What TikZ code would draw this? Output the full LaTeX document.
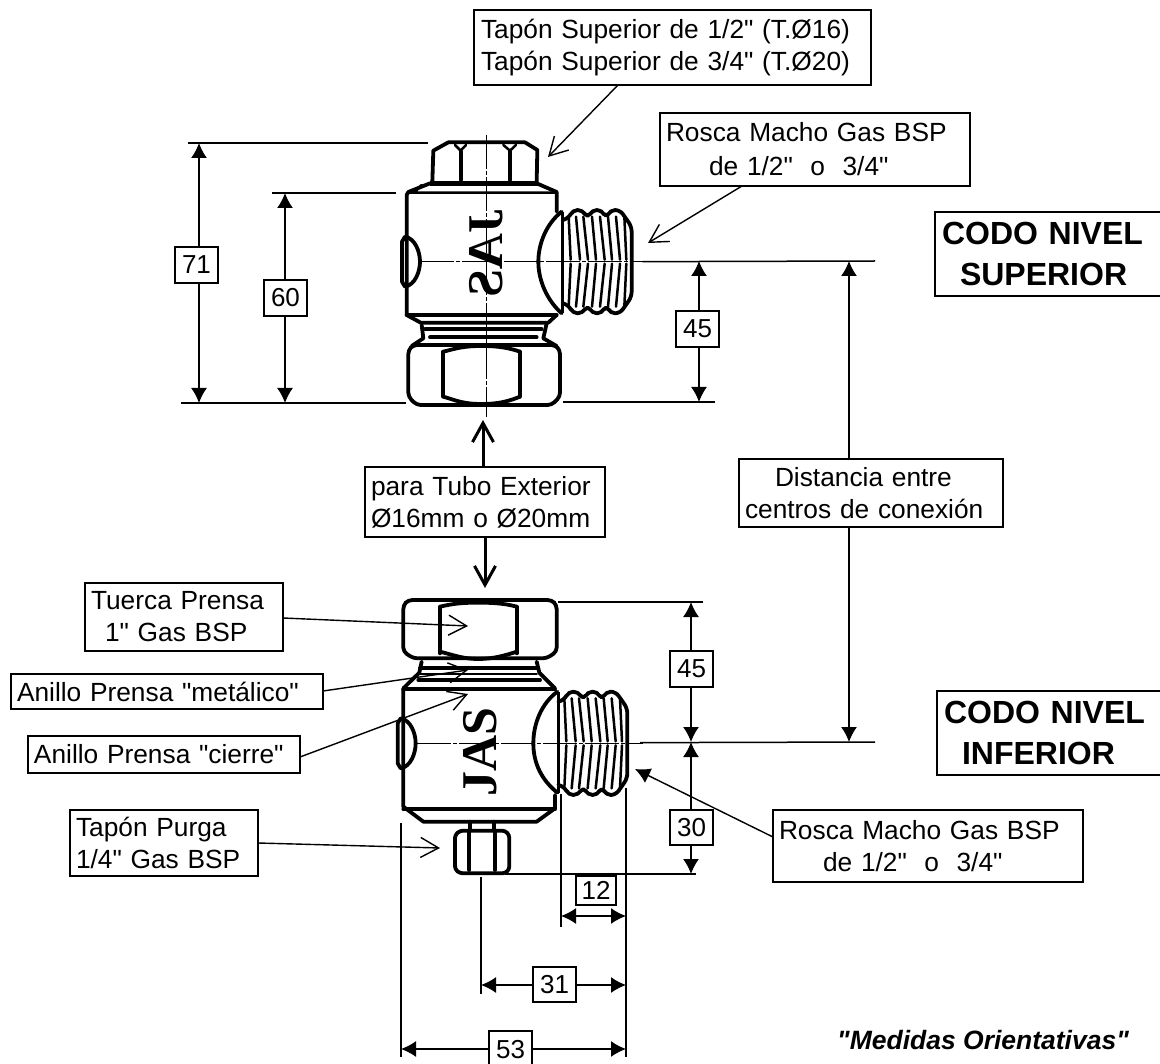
\documentclass[tikz,border=0pt]{standalone}
\usepackage{fontspec}
\setmainfont{Liberation Sans}[Ligatures=TeXOff]
\newfontfamily\valvefont{Liberation Serif}
\usetikzlibrary{arrows.meta}
\tikzset{
  lbl/.style={draw=black,line width=1.6pt,fill=white,inner ysep=0pt,align=left,font=\fontsize{26.3}{32}\selectfont},
  numbox/.style={draw=black,line width=1.6pt,fill=white,inner sep=0pt,align=center,font=\fontsize{26}{30}\selectfont},
  codobox/.style={draw=black,line width=1.7pt,fill=white,inner ysep=0pt,align=left,font=\fontsize{32}{41}\selectfont\bfseries},
  dimline/.style={line width=1.5pt,{Latex[length=15pt,width=16pt]}-{Latex[length=15pt,width=16pt]}},
  dimhead/.style={line width=1.5pt,-{Latex[length=15pt,width=16pt]}},
  leader/.style={line width=1.4pt,-{Straight Barb[length=18pt,width=20pt,line width=1.4pt]}},
  leaderfill/.style={line width=1.4pt,-{Latex[length=15pt,width=16pt]}},
  bigarrow/.style={line width=3pt,-{Straight Barb[length=19pt,width=21pt,line width=3pt]}},
  extline/.style={line width=1.5pt},
  vl/.style={line width=3.8pt,line join=round,line cap=round},
  vm/.style={line width=2.5pt,line join=round,line cap=round},
  axisline/.style={line width=1pt,dash pattern=on 34pt off 2pt on 4pt off 2pt},
  valvetxt/.style={font=\fontsize{50}{50}\selectfont\valvefont\bfseries,inner sep=0pt},
}
% box with corners (x1,y1)-(x2,y2): name, x1, y1, x2, y2, left padding, style, text
\newcommand{\bx}[8]{%
  \pgfmathsetmacro{\bw}{#4-#2}\pgfmathsetmacro{\bh}{#5-#3}%
  \pgfmathsetmacro{\tw}{\bw-2*#6}%
  \node[#7,minimum width=\bw pt,minimum height=\bh pt,inner xsep=#6pt,text width=\tw pt] (#1) at ({(#2+#4)/2},{(#3+#5)/2}) {#8};}
\newcommand{\nb}[6]{%
  \pgfmathsetmacro{\bw}{#4-#2}\pgfmathsetmacro{\bh}{#5-#3}%
  \node[numbox,minimum width=\bw pt,minimum height=\bh pt] (#1) at ({(#2+#4)/2},{(#3+#5)/2}) {#6};}
% external thread, origin on the left end of the axis
\newcommand{\threadpart}{%
  \draw[vl,rounded corners=5pt] (0,-125) -- (18,-130) -- (30,-155) -- (60,-155) -- (75,-130) -- (88,-155) -- (118,-155) -- (130,-130) -- (143,-155) -- (172,-155) -- (207,-105) -- (207,105) -- (172,155) -- (143,155) -- (130,130) -- (118,155) -- (88,155) -- (75,130) -- (60,155) -- (30,155) -- (18,130) -- (0,125);
  \foreach \sx/\sy in {18/6,40/12,62/14,88/12,112/14,136/12,160/12,185/6}{
    \draw[vm] (\sx,-135) -- (\sx+\sy,-6);
    \draw[vm] (\sx+\sy,6) -- (\sx,135);
  }
}
% side nib, origin at left of the axis
\newcommand{\nibpart}{%
  \draw[vl] (0,-75) .. controls (30,-70) and (45,-30) .. (45,0) .. controls (45,30) and (30,70) .. (0,75) -- (-9,60) -- (-9,-60) -- cycle;
}
\begin{document}
\begin{tikzpicture}[x=1pt,y=-1pt]
\useasboundingbox (0,0) rectangle (1160,1064);
\fill[white] (0,0) rectangle (1160,1064);

%% ---- upper valve
\begin{scope}[shift={(380,130)},scale=1/3]
  \draw[vl] (157,155) -- (160,62) -- (205,37) -- (435,37) -- (472,60) -- (470,155);
  \draw[line width=4.5pt] (150,160) -- (475,160);
  \draw[vl] (242,65) -- (242,150) (390,65) -- (390,150);
  \draw[vm] (225,45) -- (242,62) -- (258,45) (370,45) -- (390,62) -- (408,45);
  \draw[vl] (150,160) -- (85,186) -- (80,195) -- (80,555) -- (122,578) -- (505,578) -- (530,555);
  \draw[vl] (470,160) -- (530,186) -- (530,245);
  \draw[vm] (85,188) -- (530,188) (125,165) -- (105,186);
  \draw[vl] (80,555) -- (530,555);
  \draw[vl] (125,585) -- (130,625) -- (95,648) (500,580) -- (490,625) -- (530,648);
  \draw[vl] (135,598) -- (485,598);
  \draw[vl] (150,622) -- (470,622);
  \draw[vl,rounded corners=4pt] (100,645) -- (525,645) -- (540,660) -- (540,800) -- (515,825) -- (110,825) -- (85,800) -- (85,660) -- cycle;
  \draw[vl] (190,665) -- (190,800) (420,665) -- (420,800);
  \draw[vl] (190,665) .. controls (230,655) and (250,648) .. (305,648) .. controls (360,648) and (390,655) .. (420,665);
  \draw[vl] (190,800) .. controls (230,812) and (250,822) .. (305,822) .. controls (360,822) and (390,812) .. (420,800);
  \draw[vl] (545,245) .. controls (500,280) and (475,340) .. (475,395) .. controls (475,450) and (500,510) .. (545,550);
  \draw[line width=3.6pt] (548,245) -- (548,550);
  \begin{scope}[shift={(548,395)}]\threadpart\end{scope}
  \begin{scope}[shift={(75,395)}]\nibpart\end{scope}
  \draw[axisline] (120,395) -- (800,395);
  \draw[axisline] (318,15) -- (318,860);
  \coordinate (upAxisEnd) at (787,395);
\end{scope}
\node[valvetxt,rotate=90,xscale=-1] (marcaup) at (486,253) {JAS};

%% ---- lower valve
\begin{scope}[shift={(380,590)},scale=1/3]
  \draw[vl,rounded corners=4pt] (85,30) -- (515,30) -- (530,45) -- (530,185) -- (500,205) -- (100,205) -- (70,185) -- (70,45) -- cycle;
  \draw[vl] (180,50) -- (180,190) (410,50) -- (410,190);
  \draw[vl] (180,50) .. controls (215,42) and (240,38) .. (295,38) .. controls (350,38) and (380,42) .. (410,50);
  \draw[vl] (180,185) .. controls (220,195) and (250,207) .. (295,207) .. controls (340,207) and (380,195) .. (410,185);
  \draw[vl] (125,215) -- (118,248) -- (70,295);
  \draw[vl] (470,215) -- (478,248) -- (525,295);
  \draw[vl] (120,235) -- (475,235);
  \draw[vm] (120,252) -- (470,252);
  \draw[vl] (115,270) -- (480,270);
  \draw[vl] (70,297) -- (525,297);
  \draw[vl] (70,297) -- (70,650) -- (130,695) -- (470,695) -- (525,655) -- (525,615);
  \draw[vl] (70,658) -- (525,658);
  \draw[vl] (532,305) .. controls (485,340) and (460,400) .. (460,460) .. controls (460,520) and (485,570) .. (532,608);
  \draw[line width=3.6pt] (535,305) -- (535,610);
  \begin{scope}[shift={(535,460)}]\threadpart\end{scope}
  \begin{scope}[shift={(62,460)}]\nibpart\end{scope}
  \draw[vl] (270,695) -- (270,722) (342,695) -- (342,722);
  \draw[vl,rounded corners=3pt] (240,722) -- (375,722) -- (388,735) -- (388,838) -- (375,850) -- (240,850) -- (225,838) -- (225,735) -- cycle;
  \draw[vl] (268,725) -- (268,840) (345,725) -- (345,840);
  \draw[axisline] (110,460) -- (790,460);
  \coordinate (loAxisEnd) at (780,458);
\end{scope}
\node[valvetxt,rotate=90] (marcalo) at (480,752) {JAS};

%% ---- named points
\coordinate (topA) at (188,143);   \coordinate (topB) at (428,143);
\coordinate (secA) at (272,193);   \coordinate (secB) at (396,193);
\coordinate (baseA) at (181,403);  \coordinate (baseB) at (406,403);
\coordinate (baseC) at (563,402);  \coordinate (baseD) at (715,402);
\coordinate (cupE) at (875,261);
\coordinate (cloE) at (875,742);
\coordinate (nutA) at (558,602);   \coordinate (nutB) at (703,602);
\coordinate (plgA) at (505,874);   \coordinate (plgB) at (696,874);
\coordinate (lefT) at (401,823);   \coordinate (lefB) at (401,1057);
\coordinate (rgtT) at (626,788);   \coordinate (rgtB) at (626,1057);
\coordinate (thrT) at (561,794);   \coordinate (thrB) at (561,927);
\coordinate (mdlT) at (481,877);   \coordinate (mdlB) at (481,994);
\coordinate (t71a) at (199,143);   \coordinate (t71b) at (199,403);
\coordinate (t60a) at (285,193);   \coordinate (t60b) at (285,403);
\coordinate (t45a) at (699,261);   \coordinate (t45b) at (699,402);
\coordinate (dstA) at (849,261);   \coordinate (dstB) at (849,742);
\coordinate (l45a) at (691,602);   \coordinate (l45b) at (691,742);
\coordinate (l30a) at (691,742);   \coordinate (l30b) at (691,874);
\coordinate (a12a) at (561,916);   \coordinate (a12b) at (626,916);
\coordinate (a31a) at (481,985);   \coordinate (a31b) at (626,985);
\coordinate (a53a) at (401,1049);  \coordinate (a53b) at (626,1049);
\coordinate (tipTapon) at (548,157);
\coordinate (tipRoscaU) at (648,243);
\coordinate (tipRoscaL) at (635,769);
\coordinate (tipTuerca) at (468,626);
\coordinate (tipMetal) at (468,670);
\coordinate (tipCierre) at (468,694);
\coordinate (tipPurga) at (440,848);
\coordinate (tipUp) at (483,420);
\coordinate (tipDown) at (485,588);
\coordinate (tailTapon) at (618,85);
\coordinate (tailRoscaU) at (742,186);
\coordinate (tailRoscaL) at (773,837);
\coordinate (tailTuerca) at (283,618);
\coordinate (tailMetal) at (323,691);
\coordinate (tailCierre) at (300,757);
\coordinate (tailPurga) at (258,843);

%% ---- extension lines
\draw[extline] (topA) -- (topB);
\draw[extline] (secA) -- (secB);
\draw[extline] (baseA) -- (baseB);
\draw[extline] (baseC) -- (baseD);
\draw[extline] (upAxisEnd) -- (cupE);
\draw[extline] (loAxisEnd) -- (cloE);
\draw[extline] (nutA) -- (nutB);
\draw[extline] (plgA) -- (plgB);
\draw[extline] (lefT) -- (lefB);
\draw[extline] (rgtT) -- (rgtB);
\draw[extline] (thrT) -- (thrB);
\draw[extline] (mdlT) -- (mdlB);

%% ---- text boxes
\bx{boxTapon}{474}{10}{871}{85}{7}{lbl}{Tapón Superior de 1/2" (T.Ø16)\\Tapón Superior de 3/4" (T.Ø20)}
\bx{boxRoscaU}{660}{113}{970}{186}{6}{lbl}{Rosca Macho Gas BSP\\[2pt]\hspace*{43pt}de 1/2"\ \ o\ \ 3/4"}
\bx{boxRoscaL}{773}{810}{1083}{882}{6}{lbl}{Rosca Macho Gas BSP\\\hspace*{44pt}de 1/2"\ \ o\ \ 3/4"}
\bx{boxDist}{739}{459}{1003}{527}{6}{lbl}{\hspace*{30pt}Distancia entre\\centros de conexión}
\bx{boxTubo}{365}{467}{605}{537}{6}{lbl}{para Tubo Exterior\\Ø16mm o Ø20mm}
\bx{boxTuerca}{85}{583}{283}{651}{6}{lbl}{Tuerca Prensa\\\hspace*{14pt}1" Gas BSP}
\bx{boxMetal}{11}{674}{323}{709}{6}{lbl}{Anillo Prensa "metálico"}
\bx{boxCierre}{28}{736}{300}{773}{6}{lbl}{Anillo Prensa "cierre"}
\bx{boxPurga}{70}{810}{258}{876}{6}{lbl}{Tapón Purga\\1/4" Gas BSP}
\bx{boxSup}{935}{212}{1165}{296}{7}{codobox}{CODO NIVEL\\\hspace*{18pt}SUPERIOR}
\bx{boxInf}{937}{691}{1165}{775}{7}{codobox}{CODO NIVEL\\\hspace*{18pt}INFERIOR}

%% ---- number boxes
\nb{n71}{175}{247}{218}{283}{71}
\nb{n60}{264}{280}{307}{316}{60}
\nb{n45u}{676}{311}{719}{347}{45}
\nb{n45l}{670}{651}{713}{687}{45}
\nb{n30}{670}{810}{713}{845}{30}
\nb{n12}{576}{876}{616}{905}{12}
\nb{n31}{533}{967}{576}{1002}{31}
\nb{n53}{489}{1031}{532}{1068}{53}

%% ---- dimension arrows
\draw[dimhead] (n71.north -| t71a) -- (t71a);
\draw[dimhead] (n71.south -| t71b) -- (t71b);
\draw[dimhead] (n60.north -| t60a) -- (t60a);
\draw[dimhead] (n60.south -| t60b) -- (t60b);
\draw[dimhead] (n45u.north -| t45a) -- (t45a);
\draw[dimhead] (n45u.south -| t45b) -- (t45b);
\draw[dimhead] (boxDist.north -| dstA) -- (dstA);
\draw[dimhead] (boxDist.south -| dstB) -- (dstB);
\draw[dimhead] (n45l.north -| l45a) -- (l45a);
\draw[dimhead] (n45l.south -| l45b) -- (l45b);
\draw[dimhead] (n30.north -| l30a) -- (l30a);
\draw[dimhead] (n30.south -| l30b) -- (l30b);
\draw[dimline] (a12a) -- (a12b);
\draw[dimhead] (n31.west |- a31a) -- (a31a);
\draw[dimhead] (n31.east |- a31b) -- (a31b);
\draw[dimhead] (n53.west |- a53a) -- (a53a);
\draw[dimhead] (n53.east |- a53b) -- (a53b);

%% ---- leaders
\draw[leader] (tailTapon) -- (tipTapon);
\draw[leader] (tailRoscaU) -- (tipRoscaU);
\draw[leaderfill] (tailRoscaL) -- (tipRoscaL);
\draw[leader] (tailTuerca) -- (tipTuerca);
\draw[leader] (tailMetal) -- (tipMetal);
\draw[leader] (tailCierre) -- (tipCierre);
\draw[leader] (tailPurga) -- (tipPurga);
\draw[bigarrow] (boxTubo.north -| tipUp) -- (tipUp);
\draw[bigarrow] (boxTubo.south -| tipDown) -- (tipDown);

\node[anchor=base west,inner sep=0pt,font=\fontsize{26.5}{30}\selectfont\bfseries\itshape] (nota) at (837,1049) {"Medidas Orientativas"};
\end{tikzpicture}
\end{document}
